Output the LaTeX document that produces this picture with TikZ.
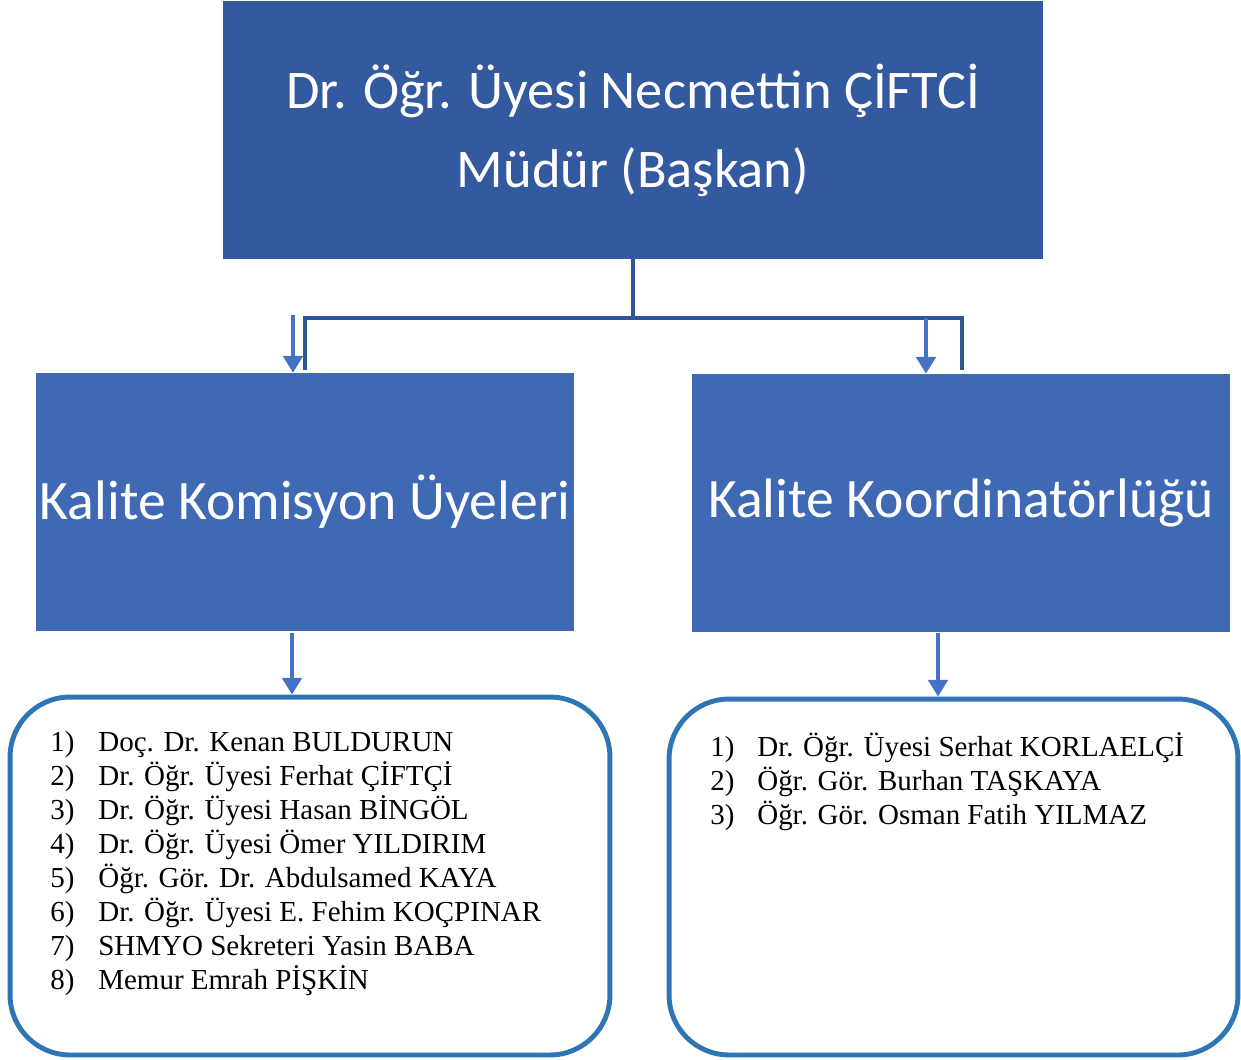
\documentclass[tikz,border=0pt]{standalone}
\usepackage{fontspec}
\setmainfont{Liberation Serif}
\newfontfamily\headfont{Carlito}
\usetikzlibrary{arrows.meta,positioning}
\definecolor{topblue}{HTML}{335A9F}
\definecolor{midblue}{HTML}{3F69B3}
\definecolor{linkblue}{HTML}{2F5597}
\definecolor{arrowblue}{HTML}{4472C4}
\definecolor{frameblue}{HTML}{2E75B6}

\begin{document}
\begin{tikzpicture}[x=0.02cm, y=-0.02cm,
    headbox/.style={fill=topblue, text=white, inner sep=0pt, align=center,
        font=\headfont\fontsize{31}{45}\selectfont},
    unitbox/.style={fill=midblue, text=white, inner sep=0pt, align=center,
        minimum width=10.76cm, minimum height=5.16cm,
        font=\headfont\fontsize{31.7}{38}\selectfont},
    listbox/.style={draw=frameblue, line width=2.8pt, rounded corners=1.2cm},
    listtext/.style={inner sep=0pt, align=left, anchor=north west,
        font=\fontsize{16.5}{19.35}\selectfont},
    link/.style={draw=linkblue, line width=2.8pt},
    down/.style={draw=arrowblue, line width=2.2pt,
        -{Triangle[width=11pt, length=9.5pt]}}]
    \useasboundingbox (0,0) rectangle (1241,1059);

    % boxes
    \node[headbox, minimum width=16.4cm, minimum height=5.16cm] (mudur) at (633,130)
        {Dr. Öğr. Üyesi Necmettin ÇİFTCİ\\Müdür (Başkan)};
    \node[unitbox] (komisyon) at (305,502) {Kalite Komisyon Üyeleri};
    \node[unitbox] (koord) at (961,503) {Kalite Koordinatörlüğü};

    \node[listbox, minimum width=12cm, minimum height=7.16cm] (uyeler) at (310,876) {};
    \node[listbox, minimum width=11.38cm, minimum height=7.12cm] (ekip) at (953.5,877) {};

    % tree connector
    \coordinate (bus) at (633,318);
    \coordinate (busL) at (305,318);
    \coordinate (busR) at (962,318);
    \coordinate (stemL) at (305,370);
    \coordinate (stemR) at (962,370);
    \draw[link] (mudur.south) -- (bus);
    \draw[link] (stemL) -- (busL) -- (busR) -- (stemR);

    % arrows
    \coordinate (inL) at (293,315);
    \coordinate (inR) at (926,318);
    \draw[down] (inL) -- (inL |- komisyon.north);
    \draw[down] (inR) -- (inR |- koord.north);
    \coordinate (outL) at (292,633);
    \coordinate (outR) at (938,633);
    \draw[down] (outL) -- (outL |- uyeler.north);
    \draw[down] (outR) -- (outR |- ekip.north);

    % member lists
    \node[listtext] (uyelist) at (50,731) {%
        \makebox[0.96cm][l]{1)}Doç. Dr. Kenan BULDURUN\\
        \makebox[0.96cm][l]{2)}Dr. Öğr. Üyesi Ferhat ÇİFTÇİ\\
        \makebox[0.96cm][l]{3)}Dr. Öğr. Üyesi Hasan BİNGÖL\\
        \makebox[0.96cm][l]{4)}Dr. Öğr. Üyesi Ömer YILDIRIM\\
        \makebox[0.96cm][l]{5)}Öğr. Gör. Dr. Abdulsamed KAYA\\
        \makebox[0.96cm][l]{6)}Dr. Öğr. Üyesi E. Fehim KOÇPINAR\\
        \makebox[0.96cm][l]{7)}SHMYO Sekreteri Yasin BABA\\
        \makebox[0.96cm][l]{8)}Memur Emrah PİŞKİN};
    \node[listtext] (ekiplist) at (710,732) {%
        \makebox[0.94cm][l]{1)}Dr. Öğr. Üyesi Serhat KORLAELÇİ\\
        \makebox[0.94cm][l]{2)}Öğr. Gör. Burhan TAŞKAYA\\
        \makebox[0.94cm][l]{3)}Öğr. Gör. Osman Fatih YILMAZ};
\end{tikzpicture}
\end{document}
